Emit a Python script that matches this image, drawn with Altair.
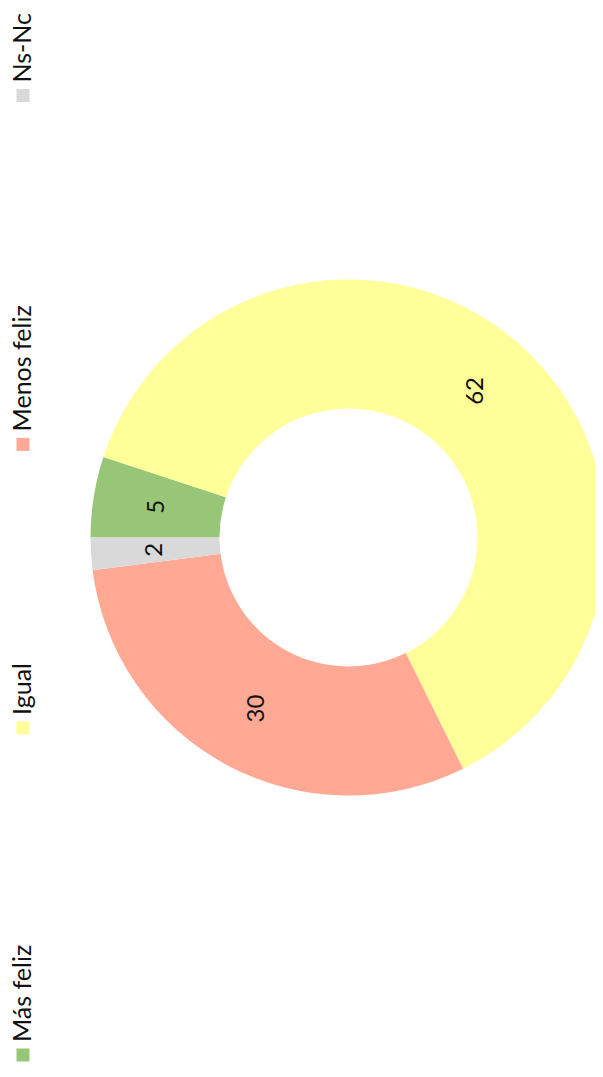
import math
import altair as alt
import pandas as pd

# Data
categories = ["Más feliz", "Igual", "Menos feliz", "Ns-Nc"]
values = [5, 62, 30, 2]
colors = ["#98C677", "#FFFF99", "#FFA894", "#D9D9D9"]

df = pd.DataFrame({"categoria": categories, "valor": values, "orden": list(range(len(categories)))})

# Legend table (layout derived from label lengths: space-between style legend)
leg = pd.DataFrame({"categoria": categories})
leg["slot"] = list(range(len(categories)))
lens = [len(c) for c in categories]
leg["chars_before"] = [sum(lens[:i]) for i in range(len(categories))]

CHAR_W = 10.9
GAP = 229
CX, CY = 340.5, 529.5
FONT = "Lato"

color_scale = alt.Scale(domain=categories, range=colors)
theta_scale = alt.Scale(range=[1.5 * math.pi, 3.5 * math.pi])

theta = alt.Theta("valor:Q", stack=True, scale=theta_scale)
order = alt.Order("orden:Q")

arcs = alt.Chart(df).mark_arc(radius=258, innerRadius=129).encode(
    theta=theta,
    order=order,
    color=alt.Color("categoria:N", scale=color_scale, legend=None),
    x=alt.value(CX),
    y=alt.value(CY),
)

labels = alt.Chart(df).mark_text(
    radius=194, angle=270, fontSize=24, font=FONT, color="#111111"
).encode(
    theta=theta,
    order=order,
    text=alt.Text("valor:Q"),
    x=alt.value(CX),
    y=alt.value(CY),
)

legend_base = alt.Chart(leg).transform_calculate(
    pos=f"datum.chars_before * {CHAR_W} + datum.slot * {GAP}"
).encode(
    y=alt.Y("pos:Q", scale=alt.Scale(domain=[0, 1047], range=[1047, 0], nice=False, zero=False), axis=None),
    x=alt.value(15),
)

legend_squares = legend_base.mark_square(size=169, opacity=1).encode(
    color=alt.Color("categoria:N", scale=color_scale, legend=None)
)

legend_text = legend_base.mark_text(
    angle=270, align="left", baseline="middle", dx=13, fontSize=25, font=FONT, color="#111111"
).encode(text=alt.Text("categoria:N"))

chart = (
    alt.layer(arcs, labels, legend_squares, legend_text)
    .properties(width=587, height=1055, padding=0, autosize=alt.AutoSizeParams(type="none"))
    .configure_view(stroke=None)
)

chart.save("out.html", embed_options={"renderer": "svg", "actions": False})
